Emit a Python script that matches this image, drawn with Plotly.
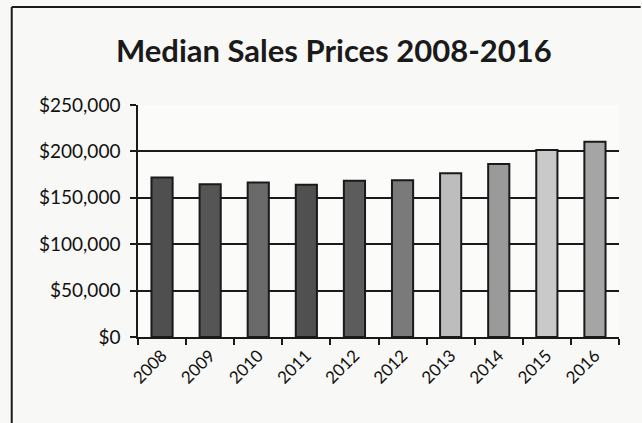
import plotly.graph_objects as go

years = ["2008", "2009", "2010", "2011", "2012", "2012", "2013", "2014", "2015", "2016"]
prices = [172000, 164500, 166500, 164000, 168500, 169000, 176500, 186500, 201500, 210500]
bar_colors = ["#4f4f4f", "#555555", "#6a6a6a", "#505050", "#5c5c5c", "#7a7a7a",
              "#bdbdbd", "#9a9a9a", "#c9c9c9", "#a5a5a5"]
y_ticks = [0, 50000, 100000, 150000, 200000, 250000]
y_labels = ["$0", "$50,000", "$100,000", "$150,000", "$200,000", "$250,000"]

pos = list(range(len(years)))

fig = go.Figure()
fig.add_trace(go.Bar(
    x=pos, y=prices, width=0.44,
    marker=dict(color=bar_colors, line=dict(color="#1a1a1a", width=2)),
))

fig.update_layout(
    width=642, height=423,
    margin=dict(l=138, r=23, t=105, b=86),
    paper_bgcolor="#f8f8f6", plot_bgcolor="#fbfbfa",
    showlegend=False,
    title=dict(text="<b>Median Sales Prices 2008-2016</b>", x=0.52, xanchor="center",
               y=0.88, yanchor="middle",
               font=dict(family="Lato", size=31, color="#1a1a1a")),
    font=dict(family="Lato", color="#111111"),
    bargap=0.5,
)
fig.update_xaxes(
    range=[-0.5, len(years) - 0.5],
    tickmode="array", tickvals=pos, ticktext=years, tickangle=-45,
    ticks="", tickfont=dict(size=17, family="Lato", color="#111111"),
    showgrid=False, showline=True, linecolor="#1a1a1a", linewidth=2,
    minor=dict(tickmode="array", tickvals=[i - 0.5 for i in range(len(years) + 1)],
               ticks="outside", ticklen=6, tickcolor="#1a1a1a", tickwidth=1.5),
    zeroline=False,
)
fig.update_yaxes(
    range=[0, 250000],
    tickmode="array", tickvals=y_ticks, ticktext=y_labels,
    ticks="outside", ticklen=6, tickcolor="#1a1a1a", tickwidth=2,
    tickfont=dict(size=19, family="Lato", color="#111111"),
    showgrid=True, gridcolor="#1a1a1a", gridwidth=2,
    showline=True, linecolor="#1a1a1a", linewidth=1.5,
    zeroline=False, ticklabelstandoff=6,
)
# outer chart border (left and top edges visible in the scan)
fig.add_shape(type="line", xref="paper", yref="paper",
              x0=-0.2625, x1=1.045, y0=1.422, y1=1.422,
              line=dict(color="#1a1a1a", width=2))
fig.add_shape(type="line", xref="paper", yref="paper",
              x0=-0.2625, x1=-0.2625, y0=1.422, y1=-0.4,
              line=dict(color="#1a1a1a", width=2))

fig.write_html("out.html")
